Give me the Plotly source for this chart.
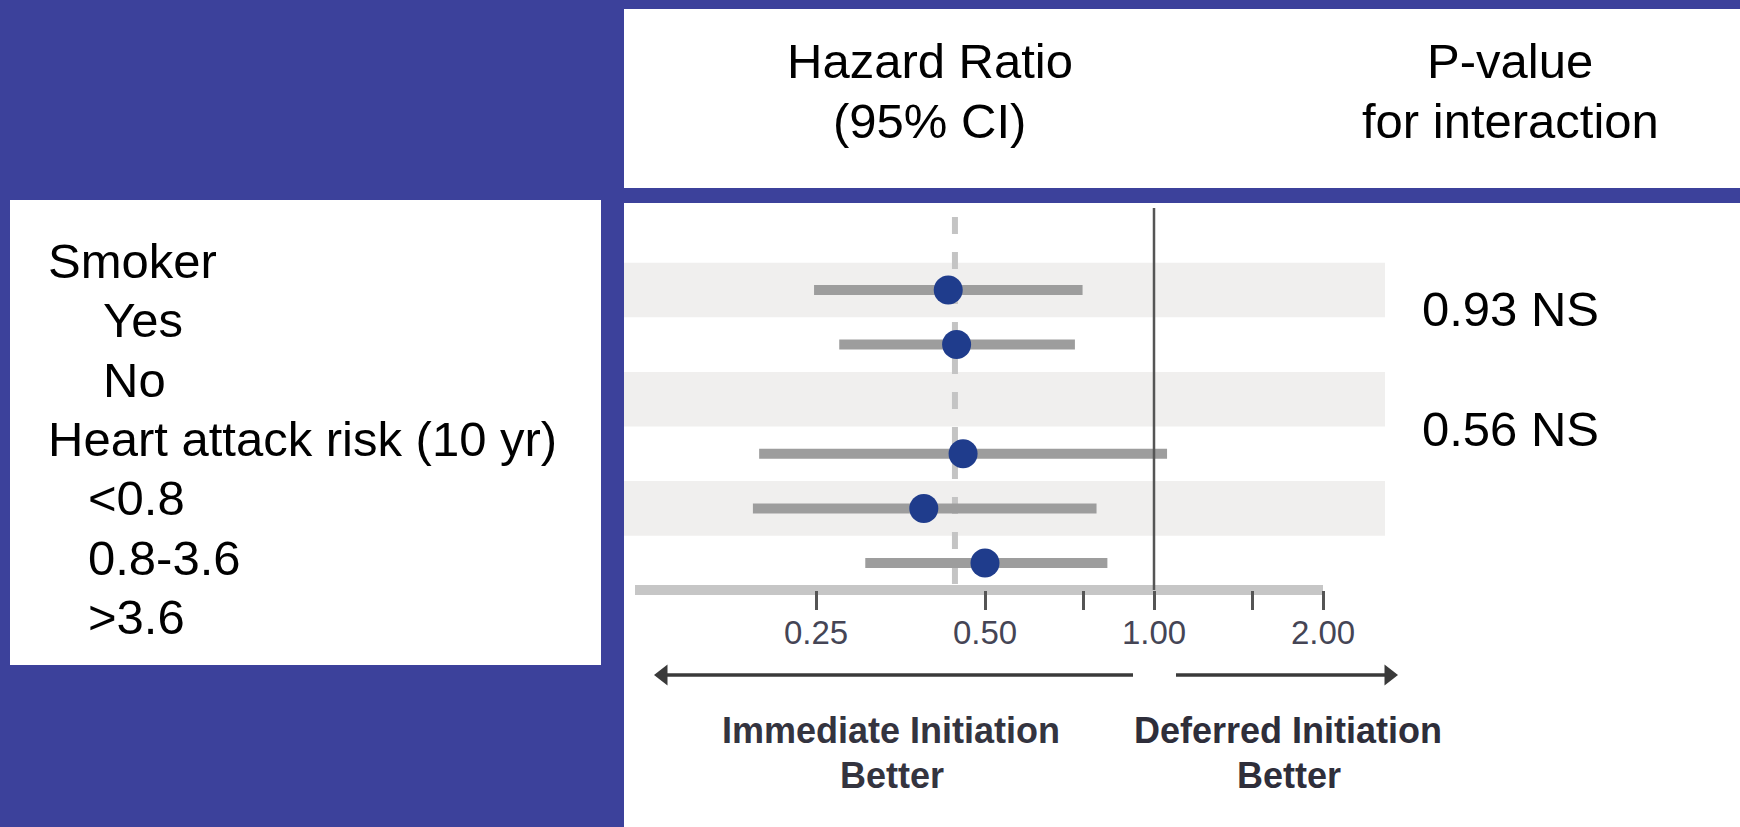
import plotly.graph_objects as go

# ---------------- data ----------------
row_labels = ["Smoker", "Yes", "No", "Heart attack risk (10 yr)", "<0.8", "0.8-3.6", ">3.6"]
row_indent = [0, 2, 2, 0, 1, 1, 1]
plot_rows = [0, 1, 3, 4, 5]          # vertical slot of each estimate
hr = [0.430, 0.445, 0.457, 0.389, 0.500]
ci_lo = [0.248, 0.275, 0.198, 0.193, 0.306]
ci_hi = [0.746, 0.723, 1.055, 0.790, 0.826]
overall_hr = 0.442
band_rows = [0, 2, 4]
pvalues = ["0.93 NS", "0.56 NS"]
tick_vals = [0.25, 0.5, 0.75, 1.0, 1.5, 2.0]
tick_text = ["0.25", "0.50", "", "1.00", "", "2.00"]
axis_span = [0.119, 2.0]
header_hr = ["Hazard Ratio", "(95% CI)"]
header_p = ["P-value", "for interaction"]
left_label = ["Immediate Initiation", "Better"]
right_label = ["Deferred Initiation", "Better"]

W, H = 1740, 827
BLUE = "#3c419b"
FONT = "Liberation Sans, Arial, sans-serif"


def px(x):
    return x / W


def py(y):
    return 1 - y / H


# y data units: row i at pixel 290 + 54.6*i
ROW0, ROWH = 290.0, 54.6
PANEL_TOP = 203.0
# x: log10 scale, 561.4 px per decade, HR=1 at pixel 1154
X1PX, DEC = 1154.0, 561.4
PANEL_LEFT, BAND_RIGHT = 624.0, 1385.0


def yv(pix):
    return (pix - ROW0) / ROWH


def xv(pix):
    return 10 ** ((pix - X1PX) / DEC)


fig = go.Figure()

# dashed overall line
fig.add_trace(go.Scatter(
    x=[overall_hr, overall_hr], y=[yv(217), yv(590)], mode="lines",
    line=dict(color="#c4c4c4", width=6, dash="17px,18px"), hoverinfo="skip"))

# axis line
fig.add_trace(go.Scatter(
    x=axis_span, y=[yv(590), yv(590)], mode="lines",
    line=dict(color="#c6c6c6", width=10), hoverinfo="skip"))

# CI bars
cx, cy = [], []
for lo, hi, r in zip(ci_lo, ci_hi, plot_rows):
    cx += [lo, hi, None]
    cy += [r, r, None]
fig.add_trace(go.Scatter(x=cx, y=cy, mode="lines",
                         line=dict(color="#9d9d9d", width=10), hoverinfo="skip"))

# line of no effect
fig.add_trace(go.Scatter(
    x=[1.0, 1.0], y=[yv(208), yv(590)], mode="lines",
    line=dict(color="#555555", width=2.5), hoverinfo="skip"))

# points
fig.add_trace(go.Scatter(x=hr, y=plot_rows, mode="markers",
                         marker=dict(color="#1f3c8c", size=29, line=dict(width=0)),
                         hoverinfo="skip"))

# arrows
ay = yv(675)
fig.add_trace(go.Scatter(x=[xv(1133), xv(663)], y=[ay, ay], mode="lines",
                         line=dict(color="#3a3a3a", width=3.5), hoverinfo="skip"))
fig.add_trace(go.Scatter(x=[xv(1176), xv(1389)], y=[ay, ay], mode="lines",
                         line=dict(color="#3a3a3a", width=3.5), hoverinfo="skip"))
fig.add_trace(go.Scatter(x=[xv(663), xv(1389)], y=[ay, ay], mode="markers",
                         marker=dict(symbol=["triangle-left", "triangle-right"],
                                     size=18, color="#3a3a3a", line=dict(width=0)),
                         cliponaxis=False, hoverinfo="skip"))

shapes = [
    # header panel
    dict(type="rect", xref="paper", yref="paper", x0=px(624), x1=1, y0=py(188), y1=py(9),
         fillcolor="white", line=dict(width=0), layer="below"),
    # left label box
    dict(type="rect", xref="paper", yref="paper", x0=px(10), x1=px(601), y0=py(665), y1=py(200),
         fillcolor="white", line=dict(width=0), layer="below"),
    # main panel
    dict(type="rect", xref="paper", yref="paper", x0=px(624), x1=1, y0=0, y1=py(203),
         fillcolor="white", line=dict(width=0), layer="below"),
]
band_x1 = (BAND_RIGHT - PANEL_LEFT) / (W - PANEL_LEFT)
for b in band_rows:
    shapes.append(dict(type="rect", xref="x domain", yref="y", x0=0, x1=band_x1,
                       y0=b - 0.5, y1=b + 0.5,
                       fillcolor="#f0efee", line=dict(width=0), layer="below"))

ann = []


def text(t, x, y, size, xanchor="center", color="black", weight="normal"):
    ann.append(dict(text=t, x=px(x), y=py(y), xref="paper", yref="paper", showarrow=False,
                    xanchor=xanchor, yanchor="middle",
                    font=dict(family=FONT, size=size, color=color, weight=weight)))


# header
text(header_hr[0], 930, 61, 49)
text(header_hr[1], 930, 121, 49)
text(header_p[0], 1510, 61, 49)
text(header_p[1], 1510, 121, 49)

# left labels
indent_px = [46, 86, 101]
for i, (lab, ind) in enumerate(zip(row_labels, row_indent)):
    text(lab, indent_px[ind], 261 + 59.3 * i, 49, xanchor="left")

# p-values
text(pvalues[0], 1420, 309, 49, xanchor="left")
text(pvalues[1], 1420, 429, 49, xanchor="left")

# direction labels
text(left_label[0], 891, 730, 36, color="#34343f", weight="bold")
text(left_label[1], 892, 775, 36, color="#34343f", weight="bold")
text(right_label[0], 1288, 730, 36, color="#2e2e3a", weight="bold")
text(right_label[1], 1289, 775, 36, color="#2e2e3a", weight="bold")

import math
fig.update_layout(
    width=W, height=H, margin=dict(l=0, r=0, t=0, b=0),
    paper_bgcolor=BLUE, plot_bgcolor="rgba(0,0,0,0)",
    showlegend=False, shapes=shapes, annotations=ann,
    xaxis=dict(type="log",
               range=[math.log10(xv(PANEL_LEFT)), math.log10(xv(W))],
               domain=[px(PANEL_LEFT), 1],
               anchor="free", position=py(590),
               showgrid=False, zeroline=False, showline=False,
               ticks="outside", ticklen=19, tickwidth=2.5, tickcolor="#555555",
               tickvals=tick_vals, ticktext=tick_text, ticklabelstandoff=-6,
               tickfont=dict(family=FONT, size=33, color="#454555")),
    yaxis=dict(range=[yv(H), yv(PANEL_TOP)], domain=[0, py(PANEL_TOP)],
               visible=False, showgrid=False, zeroline=False),
)

fig.write_html("out.html")
